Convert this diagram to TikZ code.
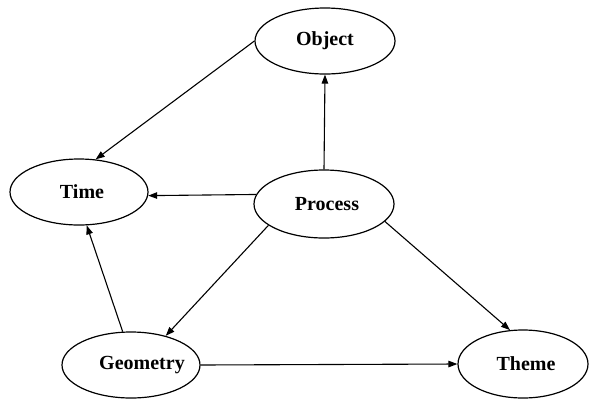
\documentclass[tikz,border=0pt]{standalone}
\usepackage{fontspec}
\setmainfont{Liberation Serif}
\usetikzlibrary{shapes.geometric,arrows.meta}
% label set at a small offset without widening the ellipse
\newcommand{\shiftedlabel}[2]{\makebox[0pt]{\hspace*{#1}#2}}
\begin{document}
\begin{tikzpicture}[x=1pt,y=-1pt,
  concept/.style={ellipse,draw,line width=1.2pt,inner sep=0pt,
    font=\fontsize{20}{22}\selectfont\bfseries},
  link/.style={line width=1.1pt,-{Triangle[length=9pt,width=6.5pt]}}]
\useasboundingbox (0,0) rectangle (589,400);
% concepts
\node[concept,minimum width=140pt,minimum height=66pt] (object) at (325,41) {Object};
\node[concept,minimum width=138pt,minimum height=66pt] (time) at (79,192) {\shiftedlabel{6pt}{Time}};
\node[concept,minimum width=140pt,minimum height=68pt] (process) at (324,204) {\shiftedlabel{6pt}{Process}};
\node[concept,minimum width=138pt,minimum height=66pt] (geometry) at (131,365) {\shiftedlabel{22pt}{Geometry}};
\node[concept,minimum width=130pt,minimum height=68pt] (theme) at (523,364) {\shiftedlabel{6pt}{Theme}};
% relations
\draw[link] (object.west) -- (time.63);
\draw[link] (process.north) -- (object.south);
\draw[link] (process.172) -- (time.-3);
\draw[link] (process.201) -- (geometry.40);
\draw[link] (process.-16) -- (theme.111);
\draw[link] (geometry.104) -- (time.283);
\draw[link] (geometry.east) -- (theme.west);
\end{tikzpicture}
\end{document}
